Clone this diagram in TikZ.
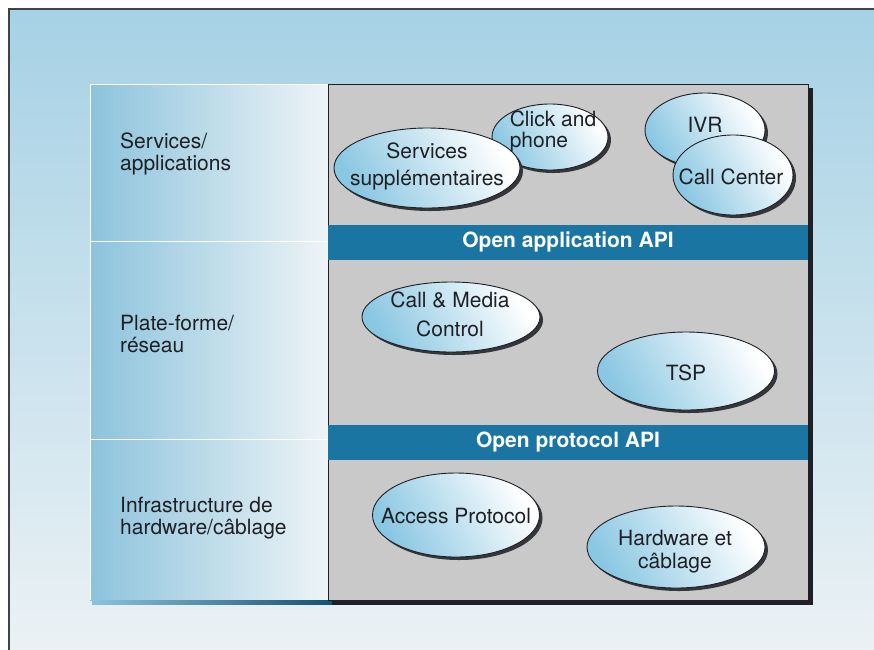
\documentclass[tikz,border=0pt]{standalone}
\usepackage{fontspec}
\setmainfont{TeX Gyre Heros}
\usetikzlibrary{shapes.geometric,shadows}

\definecolor{bgtop}{RGB}{166,209,229}
\definecolor{bgbot}{RGB}{236,242,245}
\definecolor{colblue}{RGB}{140,195,220}
\definecolor{colwhite}{RGB}{238,244,247}
\definecolor{panelgray}{RGB}{201,201,201}
\definecolor{apiblue}{RGB}{27,117,162}
\definecolor{ellblue}{RGB}{138,199,226}
\definecolor{inkdark}{RGB}{30,32,38}

\tikzset{
  bubble/.style={ellipse, draw=inkdark, line width=0.9pt, inner sep=0pt,
    top color=white, bottom color=ellblue, shading angle=-60,
    general shadow={fill=inkdark!90, shadow xshift=3pt, shadow yshift=-3pt}},
  bubtext/.style={align=center, text=inkdark, inner sep=0pt,
    font=\fontsize{21}{27}\selectfont},
  layerlabel/.style={anchor=west, align=left, text=inkdark, inner sep=0pt,
    font=\fontsize{21}{21.5}\selectfont},
  apiband/.style={fill=apiblue, text=white, inner sep=0pt,
    minimum width=480pt, minimum height=35pt,
    font=\bfseries\fontsize{21}{22}\selectfont}
}

\begin{document}
\begin{tikzpicture}[x=1pt,y=-1pt]
\def\panel{(328,84) rectangle (808,600)}
\useasboundingbox (0,0) rectangle (874,649);
\fill[white] (0,0) rectangle (874,649);
\shade[top color=bgtop, bottom color=bgbot] (9,9) rectangle (884,660);
\draw[inkdark!85, line width=1.2pt] (9,660) -- (9,9) -- (884,9);

% left column
\shade[left color=colblue, right color=colwhite] (90,84) rectangle (328,600);
\draw[white, line width=0.8pt] (328,84) -- (90,84) -- (90,600);
\draw[white, line width=0.8pt] (90,241) -- (328,241) (90,439) -- (328,439);
\shade[left color=colblue, right color=apiblue!70!black] (92,600) rectangle (332,604);
\node[layerlabel] (servlbl) at (120,154) {Services/\\applications};
\node[layerlabel] (platlbl) at (120,334) {Plate-forme/\\réseau};
\node[layerlabel] (infralbl) at (120,518) {Infrastructure de\\hardware/câblage};

% gray panel
\fill[inkdark] (332,88) rectangle (813,605);
\fill[panelgray] \panel;
\draw[inkdark, line width=1pt] \panel;

\node[apiband] (appapi) at (568,242) {Open application API};
\node[apiband] (protoapi) at (568,442) {Open protocol API};

\node[bubble, minimum width=116pt, minimum height=66pt] (click) at (550,137) {};
\node[bubble, minimum width=186pt, minimum height=80pt] (sups) at (427,168) {};
\node[bubble, minimum width=120pt, minimum height=74pt] (ivr) at (705,130) {};
\node[bubble, minimum width=120pt, minimum height=80pt] (callc) at (733,175) {};
\node[bubble, minimum width=178pt, minimum height=70pt] (media) at (451,317) {};
\node[bubble, minimum width=177pt, minimum height=78pt] (tsp) at (686,371) {};
\node[bubble, minimum width=167pt, minimum height=84pt] (access) at (456,515) {};
\node[bubble, minimum width=178pt, minimum height=82pt] (hw) at (676,547) {};

\node[bubtext, align=left, font=\fontsize{21}{21}\selectfont] (clicktxt) at (553,131) {Click and\\phone};
\node[bubtext] (supstxt) at (427,166) {Services\\supplémentaires};
\node[bubtext] (ivrtxt) at (705,125) {IVR};
\node[bubtext] (callctxt) at (731,177) {Call Center};
\node[bubtext, font=\fontsize{21}{29}\selectfont] (mediatxt) at (450,314) {Call \& Media\\Control};
\node[bubtext] (tsptxt) at (686,373) {TSP};
\node[bubtext] (accesstxt) at (456,516) {Access Protocol};
\node[bubtext, font=\fontsize{21}{23}\selectfont] (hwtxt) at (675,552) {Hardware et\\câblage};
\end{tikzpicture}
\end{document}
